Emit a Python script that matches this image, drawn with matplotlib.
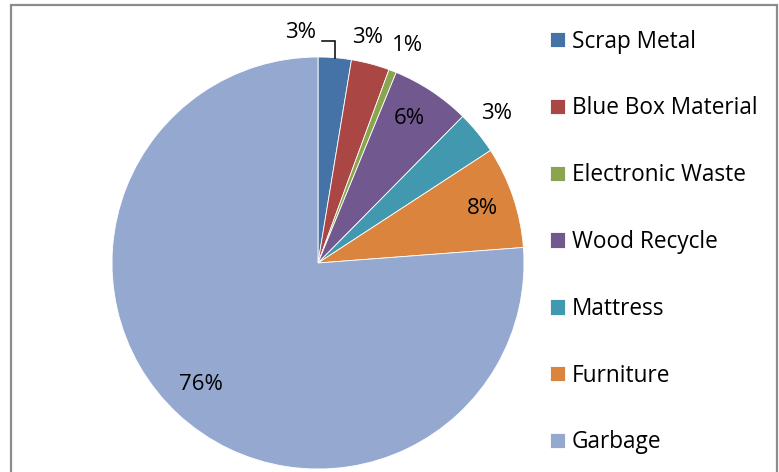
import matplotlib
matplotlib.use("Agg")
import matplotlib.pyplot as plt
from matplotlib.patches import Rectangle
import numpy as np

categories = ["Scrap Metal", "Blue Box Material", "Electronic Waste", "Wood Recycle",
              "Mattress", "Furniture", "Garbage"]
values = [2.6, 3.0, 0.6, 6.2, 3.4, 8.0, 76.2]
labels = ["3%", "3%", "1%", "6%", "3%", "8%", "76%"]
colors = ["#4572A7", "#AA4643", "#89A54E", "#71588F", "#4198AF", "#DB843D", "#95A9D0"]

# label placement style: radius (in pie radii), angle shift (degrees)
label_radius = [1.12, 1.12, 1.14, 0.83, 1.13, 0.84, 0.82]
label_shift = [9.0, 2.3, -1.2, 1.1, 0.8, -0.3, -1.0]

plt.rcParams['font.family'] = ['Open Sans', 'DejaVu Sans']

W, H = 779, 472
fig = plt.figure(figsize=(W / 100, H / 100), dpi=100)
fig.patch.set_facecolor("white")

cx, cy, r = 318, 263, 206
ax = fig.add_axes([(cx - r) / W, (H - cy - r) / H, 2 * r / W, 2 * r / H])

wedges, _ = ax.pie(values, colors=colors, startangle=90, counterclock=False, radius=1,
                   wedgeprops=dict(edgecolor="white", linewidth=0.6))
ax.set_xlim(-1, 1)
ax.set_ylim(-1, 1)
ax.set_aspect("equal")
ax.axis("off")

for i, w in enumerate(wedges):
    mid = np.deg2rad((w.theta1 + w.theta2) / 2 + label_shift[i])
    lx, ly = label_radius[i] * np.cos(mid), label_radius[i] * np.sin(mid)
    ax.text(lx, ly, labels[i], ha="center", va="center", fontsize=16, color="#000000",
            clip_on=False)
    if i == 0:
        m0 = np.deg2rad((w.theta1 + w.theta2) / 2)
        ex, ey = np.cos(m0), np.sin(m0)
        ax.plot([lx + 0.105, ex, ex], [ly - 0.04, ly - 0.04, ey], color="black", lw=1.1,
                clip_on=False, solid_joinstyle="miter")

leg = fig.legend(wedges, categories, loc="upper left",
                 bbox_to_anchor=(532 / W, 1 - 11.5 / H), frameon=False,
                 fontsize=16.3, handlelength=0.67, handleheight=0.67,
                 handletextpad=0.3, labelspacing=1.89, borderpad=0.3)

fig.patches.append(Rectangle((10.5 / W, -0.05), 766 / W, 1.05 - 5.5 / H,
                             transform=fig.transFigure, fill=False,
                             edgecolor="#8C8C8C", linewidth=1.6))

fig.savefig("out.png", dpi=100, facecolor="white")
